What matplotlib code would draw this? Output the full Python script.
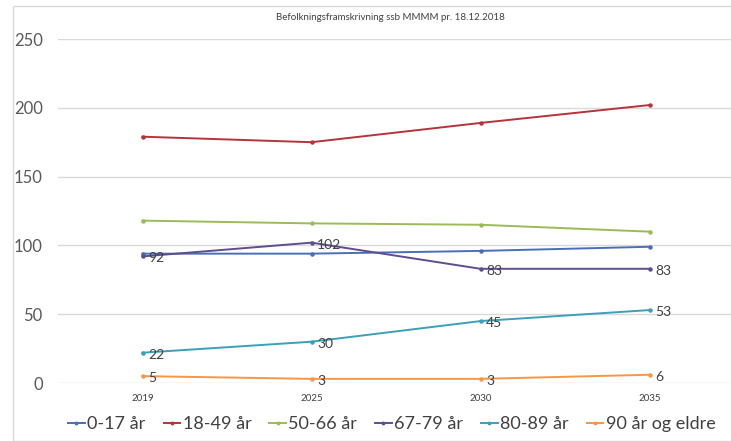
import matplotlib.pyplot as plt
from matplotlib.patches import Rectangle

plt.rcParams['font.family'] = ['Lato', 'DejaVu Sans']

years = ['2019', '2025', '2030', '2035']
series_names = ['0-17 år', '18-49 år', '50-66 år', '67-79 år', '80-89 år', '90 år og eldre']
age_0_17 = [94, 94, 96, 99]
age_18_49 = [179, 175, 189, 202]
age_50_66 = [118, 116, 115, 110]
age_67_79 = [92, 102, 83, 83]
age_80_89 = [22, 30, 45, 53]
age_90_plus = [5, 3, 3, 6]
title = 'Befolkningsframskrivning ssb MMMM pr. 18.12.2018'

values = [age_0_17, age_18_49, age_50_66, age_67_79, age_80_89, age_90_plus]
colors = ['#4A6EB8', '#B5343A', '#9BBB59', '#5F4D8E', '#3BA0B8', '#F79646']
labelled = [False, False, False, True, True, True]

W, H = 731, 441
fig = plt.figure(figsize=(W / 100, H / 100), dpi=100)

# chart frame
fig.patches.append(Rectangle((13 / W, 0), 1, 1 - 6 / H, transform=fig.transFigure,
                             fill=False, edgecolor='#d9d9d9', linewidth=1))

ax = fig.add_axes([58 / W, (H - 383) / H, 676 / W, 344 / H])
x = list(range(len(years)))

for name, vals, col, lab in zip(series_names, values, colors, labelled):
    ax.plot(x, vals, color=col, linewidth=1.4, marker='o', markersize=2.2, label=name)
    if lab:
        for xi, v in zip(x, vals):
            ax.annotate(str(v), (xi, v), xytext=(4, -1.5), textcoords='offset points',
                        ha='left', va='center', fontsize=10, color='#404040')

ax.set_xlim(-0.5, 3.5)
ax.set_ylim(0, 250)
ax.set_yticks([0, 50, 100, 150, 200, 250])
ax.set_xticks(x)
ax.set_xticklabels(years)
ax.grid(axis='y', color='#d9d9d9', linewidth=1)
ax.set_axisbelow(True)
for s in ax.spines.values():
    s.set_visible(False)
ax.tick_params(axis='y', length=0, labelsize=12, labelcolor='#595959', pad=11)
ax.tick_params(axis='x', length=0, labelsize=7, labelcolor='#404040', pad=8)

fig.text(390 / W, 1 - 18 / H, title, ha='center', va='center', fontsize=7, color='#404040')

fig.legend(loc='center', bbox_to_anchor=(392 / W, 1 - 424 / H), ncol=6,
           frameon=False, fontsize=13, handlelength=0.9, handletextpad=0.15,
           columnspacing=1.0, labelcolor='#404040', markerscale=0.8)

fig.savefig('out.png', dpi=100)
